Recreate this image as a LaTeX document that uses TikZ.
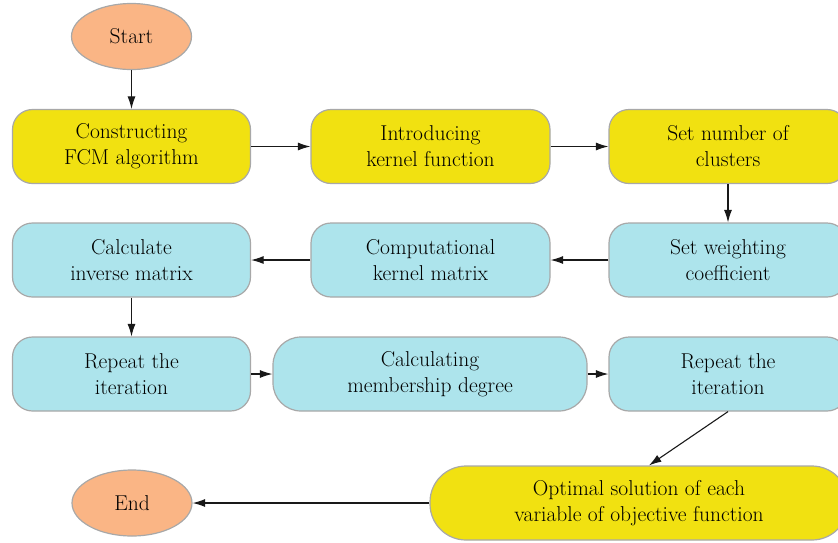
\documentclass[tikz,border=0pt]{standalone}
\usetikzlibrary{shapes.geometric,arrows.meta}
\definecolor{ylw}{HTML}{F1E111}
\definecolor{cyn}{HTML}{ADE4EC}
\definecolor{sal}{HTML}{FAB585}
\definecolor{bord}{HTML}{A8A8A8}
\begin{document}
\begin{tikzpicture}[x=1pt,y=-1pt,
  txt/.style={align=center, font=\fontsize{21.5}{26}\selectfont, inner sep=0pt, draw=bord, line width=1.2pt, text=black},
  box/.style={txt, rectangle, rounded corners=20pt, minimum height=74pt},
  ybox/.style={box, fill=ylw},
  cbox/.style={box, fill=cyn},
  oval/.style={txt, ellipse, fill=sal, minimum width=120pt, minimum height=66pt},
  arr/.style={-{Latex[length=12.5pt,width=8pt]}, line width=1.1pt, black!90}]
\useasboundingbox (0,0) rectangle (838,542);
\node[oval] (start) at (131.5,36.5) {Start};
\node[ybox, minimum width=238pt] (c1) at (131.5,146.5) {Constructing\\FCM algorithm};
\node[ybox, minimum width=239pt] (c2) at (430.5,146.5) {Introducing\\kernel function};
\node[ybox, minimum width=238pt] (c3) at (728,146.5) {Set number of\\clusters};
\node[cbox, minimum width=238pt] (d1) at (131.5,260) {Calculate\\inverse matrix};
\node[cbox, minimum width=239pt] (d2) at (430.5,260) {Computational\\kernel matrix};
\node[cbox, minimum width=238pt] (d3) at (728,260) {Set weighting\\coefficient};
\node[cbox, minimum width=238pt] (e1) at (131.5,374) {Repeat the\\iteration};
\node[cbox, minimum width=314pt, rounded corners=28pt] (e2) at (430,374) {Calculating\\membership degree};
\node[cbox, minimum width=238pt] (e3) at (728,374) {Repeat the\\iteration};
\node[ybox, minimum width=418pt, rounded corners=36pt] (opt) at (639,503) {Optimal solution of each\\variable of objective function};
\node[oval] (end) at (132,503) {End};
\draw[arr] (start) -- (c1);
\draw[arr] (c1) -- (c2);
\draw[arr] (c2) -- (c3);
\draw[arr] (c3) -- (d3);
\draw[arr] (d3) -- (d2);
\draw[arr] (d2) -- (d1);
\draw[arr] (d1) -- (e1);
\draw[arr] (e1) -- (e2);
\draw[arr] (e2) -- (e3);
\draw[arr] (e3.south) -- ([xshift=10pt]opt.north);
\draw[arr] (opt) -- (end);
\end{tikzpicture}
\end{document}
